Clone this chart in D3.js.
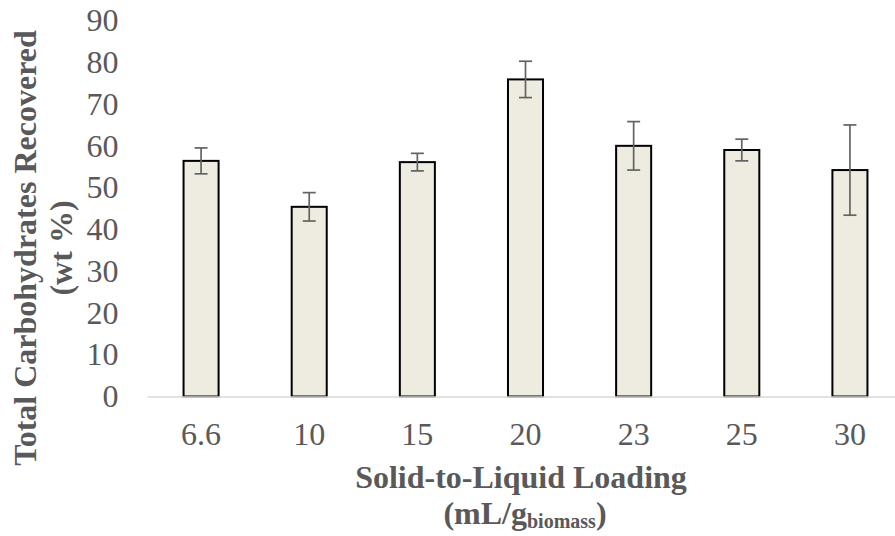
<!DOCTYPE html>
<html>
<head>
<meta charset="utf-8">
<script src="https://cdn.jsdelivr.net/npm/d3@7"></script>
<style>
  html, body { margin: 0; padding: 0; background: #fff; }
  svg { display: block; font-family: "Liberation Serif", "Times New Roman", serif; }
</style>
</head>
<body>
<svg id="chart" width="895" height="536"></svg>
<script>
// Solid-to-liquid loading levels (mL/g biomass)
const categories = ["6.6", "10", "15", "20", "23", "25", "30"];
// Total carbohydrates recovered (wt %)
const recovered = [56.4, 45.4, 56.1, 75.9, 60.0, 59.0, 54.2];
// Standard deviation for each loading
const errors = [3.1, 3.4, 2.1, 4.35, 5.8, 2.6, 10.8];
const yTicks = [0, 10, 20, 30, 40, 50, 60, 70, 80, 90];

const svg = d3.select("#chart");
const textGrey = "#595959";
const fontSize = "32px";

const x = d3.scaleBand()
  .domain(categories)
  .range([147, 904])
  .paddingInner(0.676)
  .paddingOuter(0.338);

const y = d3.scaleLinear()
  .domain([0, 90])
  .range([396.5, 20.5]);

const data = categories.map((c, i) => ({ cat: c, value: recovered[i], err: errors[i] }));

// Y axis: labels only
const yAxis = svg.append("g")
  .attr("transform", "translate(147,0)")
  .call(d3.axisLeft(y).tickValues(yTicks).tickSize(0).tickPadding(28.5).tickFormat(d3.format("d")));
yAxis.select(".domain").remove();
yAxis.selectAll("text")
  .attr("fill", textGrey)
  .style("font-family", "'Liberation Serif', 'Times New Roman', serif")
  .style("font-size", fontSize);

// Bars
svg.append("g").selectAll("rect")
  .data(data)
  .join("rect")
  .attr("x", d => x(d.cat))
  .attr("y", d => y(d.value))
  .attr("width", x.bandwidth())
  .attr("height", d => y(0) - y(d.value))
  .attr("fill", "#EEECE1")
  .attr("stroke", "#000")
  .attr("stroke-width", 2);

// X axis baseline and category labels
const xAxis = svg.append("g")
  .attr("transform", `translate(0,${y(0)})`)
  .call(d3.axisBottom(x).tickSize(0).tickPadding(26));
xAxis.select(".domain")
  .attr("stroke", "#D9D9D9")
  .attr("stroke-width", 1.3);
xAxis.selectAll("text")
  .attr("fill", textGrey)
  .style("font-family", "'Liberation Serif', 'Times New Roman', serif")
  .style("font-size", fontSize);

// Error bars
const errG = svg.append("g")
  .attr("stroke", "#636363")
  .attr("stroke-width", 1.7)
  .attr("fill", "none");
const cap = 6.5;
data.forEach(d => {
  const cx = x(d.cat) + x.bandwidth() / 2;
  const yTop = y(d.value + d.err);
  const yBot = y(d.value - d.err);
  errG.append("line").attr("x1", cx).attr("x2", cx).attr("y1", yTop).attr("y2", yBot);
  errG.append("line").attr("x1", cx - cap).attr("x2", cx + cap).attr("y1", yTop).attr("y2", yTop);
  errG.append("line").attr("x1", cx - cap).attr("x2", cx + cap).attr("y1", yBot).attr("y2", yBot);
});

// Axis titles
const titleStyle = sel => sel
  .attr("fill", textGrey)
  .attr("font-weight", "bold")
  .attr("text-anchor", "middle")
  .style("font-size", fontSize);

const yTitle = svg.append("g").attr("transform", "translate(0,248) rotate(-90)");
yTitle.append("text").attr("x", 0).attr("y", 36).call(titleStyle)
  .text("Total Carbohydrates Recovered");
yTitle.append("text").attr("x", 0).attr("y", 72).call(titleStyle)
  .text("(wt %)");

svg.append("text").attr("x", 521).attr("y", 488).call(titleStyle)
  .text("Solid-to-Liquid Loading");
const sub = svg.append("text").attr("x", 525).attr("y", 524).call(titleStyle);
sub.append("tspan").text("(mL/g");
sub.append("tspan").attr("dy", 4).style("font-size", "20px").text("biomass");
sub.append("tspan").attr("dy", -4).text(")");
</script>
</body>
</html>
